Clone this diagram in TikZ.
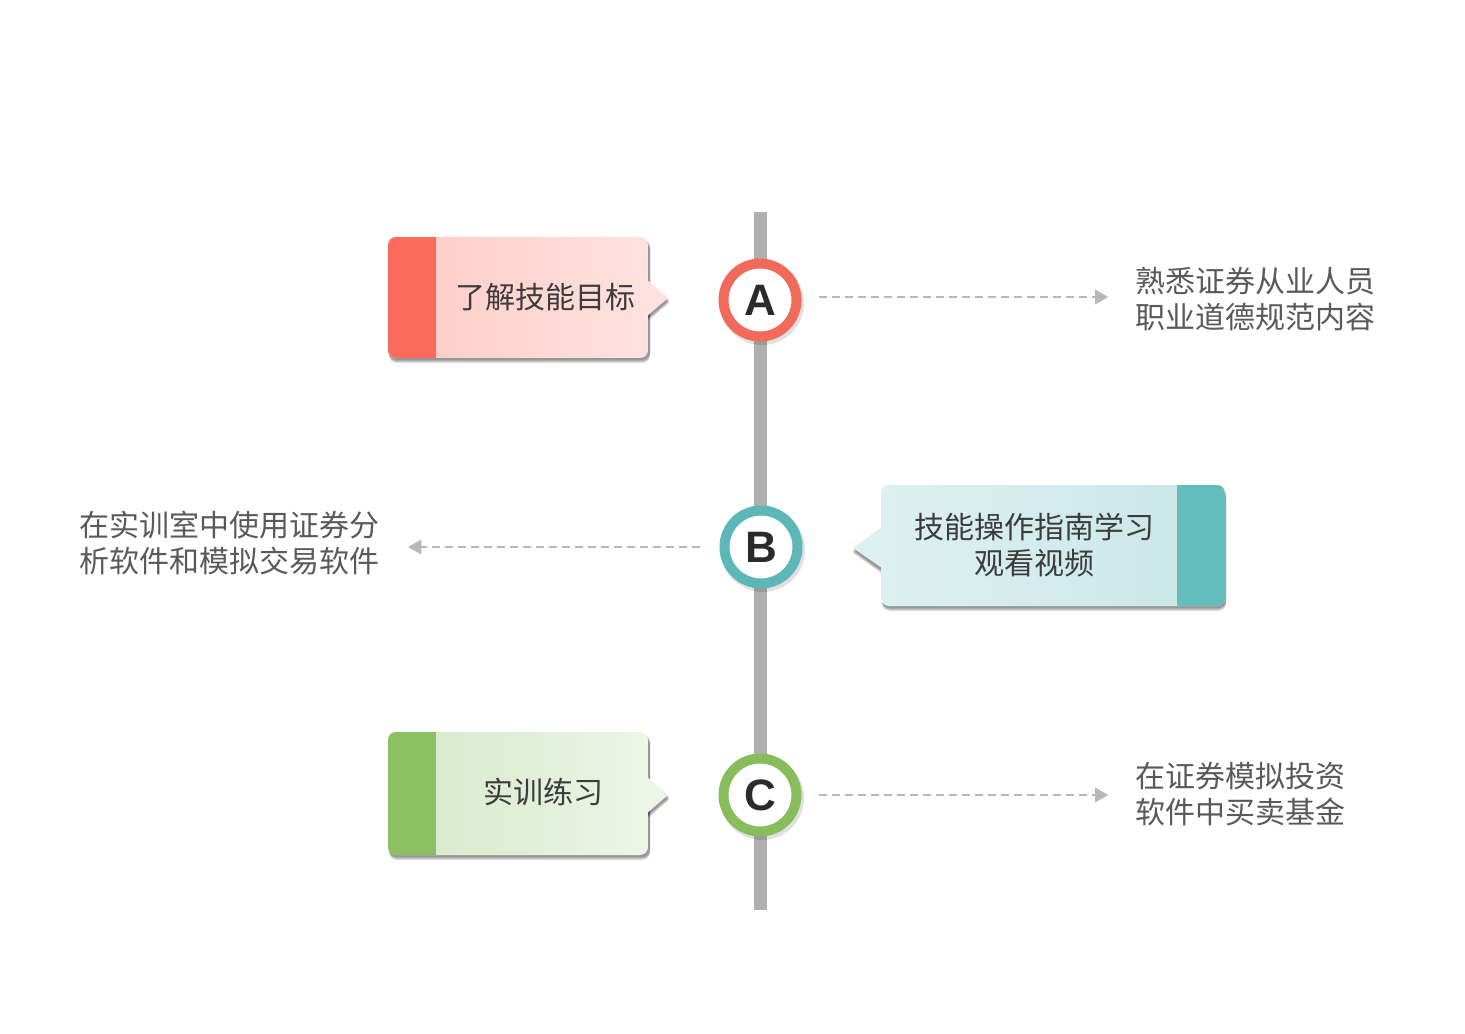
\documentclass[tikz,border=0pt]{standalone}
\usepackage{fontspec}
\setmainfont{Noto Sans CJK SC}
\newfontfamily\latf{Liberation Sans}
\usetikzlibrary{arrows.meta}
\definecolor{redR}{HTML}{F26A5A}
\definecolor{redS}{HTML}{FC6C5C}
\definecolor{redL}{HTML}{FFCBC5}
\definecolor{redH}{HTML}{FFE2DF}
\definecolor{tealR}{HTML}{5DB6B7}
\definecolor{tealS}{HTML}{63BDBC}
\definecolor{tealL}{HTML}{DDF0F1}
\definecolor{tealH}{HTML}{C9E6E7}
\definecolor{grnR}{HTML}{88BD5C}
\definecolor{grnS}{HTML}{8BBF5F}
\definecolor{grnL}{HTML}{D5E8C8}
\definecolor{grnH}{HTML}{EDF5E6}
\definecolor{axisgray}{HTML}{B0B0B0}
\definecolor{dashgray}{HTML}{B8B8B8}
\definecolor{txtgray}{HTML}{595959}
\definecolor{boxtxt}{HTML}{3C3C3C}
\definecolor{lettxt}{HTML}{2B2B2B}
\begin{document}
\begin{tikzpicture}[x=0.75pt,y=-0.75pt,
  cjktext/.style={font=\fontsize{22.5}{27}\selectfont, inner sep=0pt},
  boxtext/.style={cjktext, text=boxtxt, align=center},
  note/.style={cjktext, text=txtgray, align=left},
  ring/.style={circle, draw=#1, line width=7.5pt, fill=white, minimum size=54.75pt, inner sep=0pt,
    font=\latf\bfseries\fontsize{33}{33}\selectfont, text=lettxt},
  dashconn/.style={draw=dashgray, line width=1.5pt, dash pattern=on 6pt off 3.75pt,
    -{Triangle[length=10pt,width=11pt,fill=dashgray]}},
  shadowfill/.style={fill=black, opacity=0.12},
]
\useasboundingbox (0,0) rectangle (1465,1034);

% axis
\coordinate (axTop) at (760,212);
\coordinate (axBot) at (760,910);
\draw[axisgray, line width=9.75pt] (axTop) -- (axBot);

% ---------- Box A ----------
\foreach \o in {2,3,4,5}{
  \fill[shadowfill, rounded corners=6pt] (389,237+\o) rectangle (650,358+\o);
  \fill[shadowfill] (648,280+\o) -- (669,298+\o) -- (648,316+\o) -- cycle;
}
\begin{scope}
  \clip[rounded corners=6pt] (388,237) rectangle (648,358);
  \shade[left color=redL, right color=redH] (388,237) rectangle (648,358);
  \fill[redS] (388,237) rectangle (436,358);
\end{scope}
\fill[redH] (647,280) -- (668,298) -- (647,316) -- cycle;
\node[boxtext] (bA) at (545,297) {了解技能目标};

% ---------- Box B ----------
\foreach \o in {2,3,4,5}{
  \fill[shadowfill, rounded corners=6pt] (882,485+\o) rectangle (1226,606+\o);
  \fill[shadowfill] (881,527+\o) -- (853,548+\o) -- (881,568+\o) -- cycle;
}
\begin{scope}
  \clip[rounded corners=6pt] (881,485) rectangle (1225,606);
  \shade[left color=tealL, right color=tealH] (881,485) rectangle (1225,606);
  \fill[tealS] (1177,485) rectangle (1225,606);
\end{scope}
\fill[tealL] (882,527) -- (853,548) -- (882,568) -- cycle;
\node[boxtext] (bB) at (1034,545) {技能操作指南学习\\观看视频};

% ---------- Box C ----------
\foreach \o in {2,3,4,5}{
  \fill[shadowfill, rounded corners=6pt] (389,732+\o) rectangle (650,855+\o);
  \fill[shadowfill] (648,777+\o) -- (669,795+\o) -- (648,813+\o) -- cycle;
}
\begin{scope}
  \clip[rounded corners=6pt] (388,732) rectangle (648,855);
  \shade[left color=grnL, right color=grnH] (388,732) rectangle (648,855);
  \fill[grnS] (388,732) rectangle (436,855);
\end{scope}
\fill[grnH] (647,777) -- (668,795) -- (647,813) -- cycle;
\node[boxtext] (bC) at (543,792) {实训练习};

% ---------- circles ----------
\foreach \p in {(762,303),(763,550),(762,798)}{
  \fill[black, opacity=0.12] \p circle (31.5pt);
}
\node[ring=redR] (cA) at (760,300) {A};
\node[ring=tealR] (cB) at (761,547) {B};
\node[ring=grnR] (cC) at (760,795) {C};

% ---------- notes ----------
\node[note, anchor=west] (tA) at (1135,299) {熟悉证券从业人员\\职业道德规范内容};
\node[note, anchor=east] (tB) at (380,543) {在实训室中使用证券分\\析软件和模拟交易软件};
\node[note, anchor=west] (tC) at (1135,794) {在证券模拟投资\\软件中买卖基金};

% ---------- dashed connectors ----------
\draw[dashconn, shorten <=12.75pt, shorten >=20pt] ([yshift=2.25pt]cA.east) -- ([yshift=2.25pt]cA.east -| tA.west);
\draw[dashconn, shorten <=46pt, shorten >=21pt] (cB.center) -- (cB.center -| tB.east);
\draw[dashconn, shorten <=12.75pt, shorten >=20pt] (cC.east) -- (cC.east -| tC.west);
\end{tikzpicture}
\end{document}
